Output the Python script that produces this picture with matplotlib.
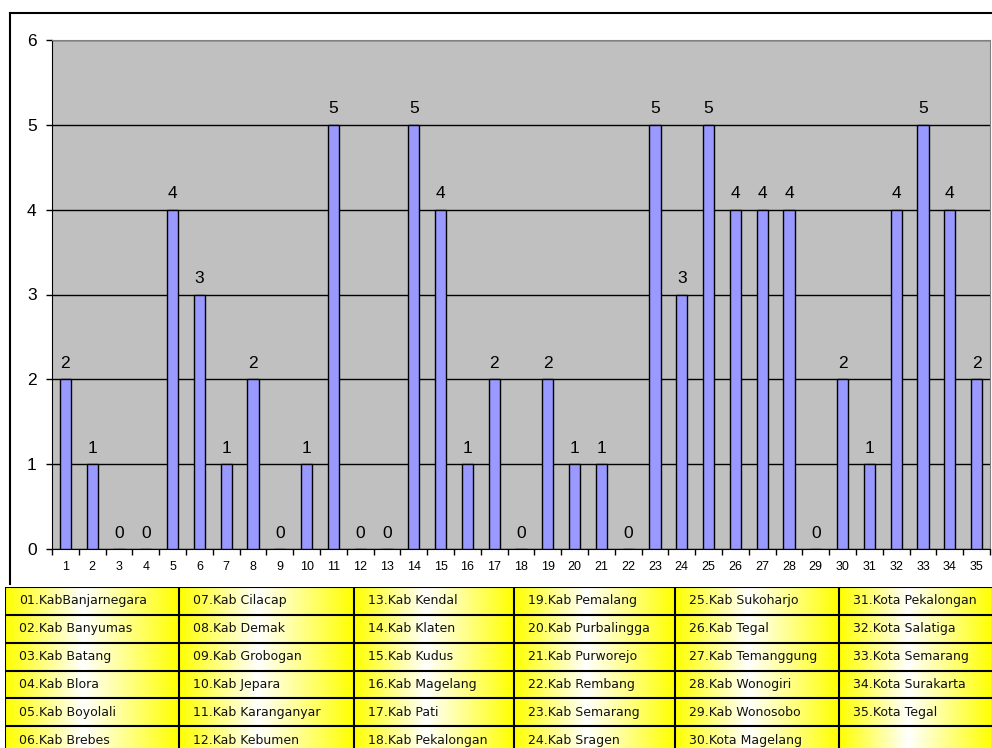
import numpy as np
import matplotlib
matplotlib.use("Agg")
import matplotlib.pyplot as plt
from matplotlib.lines import Line2D

plt.rcParams['font.family'] = ['Liberation Sans', 'DejaVu Sans']

# data
kode = list(range(1, 36))
jumlah = [2, 1, 0, 0, 4, 3, 1, 2, 0, 1, 5, 0, 0, 5, 4, 1, 2, 0, 2, 1, 1, 0,
          5, 3, 5, 4, 4, 4, 0, 2, 1, 4, 5, 4, 2]
nama = ["01.KabBanjarnegara", "02.Kab Banyumas", "03.Kab Batang", "04.Kab Blora",
        "05.Kab Boyolali", "06.Kab Brebes", "07.Kab Cilacap", "08.Kab Demak",
        "09.Kab Grobogan", "10.Kab Jepara", "11.Kab Karanganyar", "12.Kab Kebumen",
        "13.Kab Kendal", "14.Kab Klaten", "15.Kab Kudus", "16.Kab Magelang",
        "17.Kab Pati", "18.Kab Pekalongan", "19.Kab Pemalang", "20.Kab Purbalingga",
        "21.Kab Purworejo", "22.Kab Rembang", "23.Kab Semarang", "24.Kab Sragen",
        "25.Kab Sukoharjo", "26.Kab Tegal", "27.Kab Temanggung", "28.Kab Wonogiri",
        "29.Kab Wonosobo", "30.Kota Magelang", "31.Kota Pekalongan", "32.Kota Salatiga",
        "33.Kota Semarang", "34.Kota Surakarta", "35.Kota Tegal", ""]

W, H = 992, 748
fig = plt.figure(figsize=(W / 100, H / 100), dpi=100)

# outer frame of the chart object
fig.add_artist(Line2D([10 / W, 1.0], [1 - 13 / H, 1 - 13 / H], color='black', lw=1.5,
                      transform=fig.transFigure))
fig.add_artist(Line2D([10 / W, 10 / W], [1 - 13 / H, 1 - 584 / H], color='black', lw=1.5,
                      transform=fig.transFigure))

# bar chart
ax = fig.add_axes([52 / W, (H - 549) / H, (990 - 52) / W, (549 - 40) / H])
ax.set_facecolor('#C0C0C0')
ax.bar(kode, jumlah, width=0.42, color='#9999FF', edgecolor='black', linewidth=1, zorder=3)
for x, v in zip(kode, jumlah):
    ax.annotate(str(v), (x, v), xytext=(0, 11.5), textcoords='offset points',
                ha='center', va='center', fontsize=12.5, family='Liberation Sans')
ax.set_xlim(0.5, 35.5)
ax.set_ylim(0, 6)
ax.set_yticks(range(0, 7))
ax.yaxis.grid(True, color='black', lw=1)
ax.set_axisbelow(True)
ax.set_xticks(kode)
ax.set_xticks(np.arange(0.5, 36, 1), minor=True)
ax.tick_params(axis='x', which='major', length=0, pad=8.5, labelsize=9)
ax.tick_params(axis='x', which='minor', length=4, width=1, direction='out')
ax.tick_params(axis='y', length=4, width=1, pad=7, labelsize=12.5)
for lbl in ax.get_xticklabels() + ax.get_yticklabels():
    lbl.set_family('Liberation Sans')
for s in ['top', 'right']:
    ax.spines[s].set_color('#808080')
for s in ['left', 'bottom']:
    ax.spines[s].set_color('black')

# legend table below the chart
tx0, tx1, ty0, ty1 = 5, 992, 587, 754
tab = fig.add_axes([tx0 / W, (H - ty1) / H, (tx1 - tx0) / W, (ty1 - ty0) / H])
tab.axis('off')
col_edges = [5, 179, 354, 514, 675, 839, 993]
n_rows = 6
row_h = (ty1 - ty0) / n_rows
t = np.linspace(0, 1, 200)
white = np.interp(t, [0, 0.45, 1], [0, 1, 0])
grad = np.stack([np.ones_like(t), np.ones_like(t), white], axis=-1)[None, :, :]
for c in range(6):
    tab.imshow(grad, extent=[col_edges[c], col_edges[c + 1], ty1, ty0], aspect='auto',
               interpolation='bilinear')
    for r in range(n_rows):
        i = c * n_rows + r
        tab.text(col_edges[c] + 14, ty0 + (r + 0.5) * row_h, nama[i], ha='left', va='center',
                 fontsize=9, family='DejaVu Sans', color='#111111')
for xe in col_edges:
    tab.plot([xe, xe], [ty0, ty1], color='black', lw=1.5)
for r in range(n_rows + 1):
    y = ty0 + r * row_h
    tab.plot([tx0, tx1], [y, y], color='black', lw=1.5)
tab.set_xlim(tx0, tx1)
tab.set_ylim(ty1, ty0)

fig.savefig('out.png', dpi=100)
